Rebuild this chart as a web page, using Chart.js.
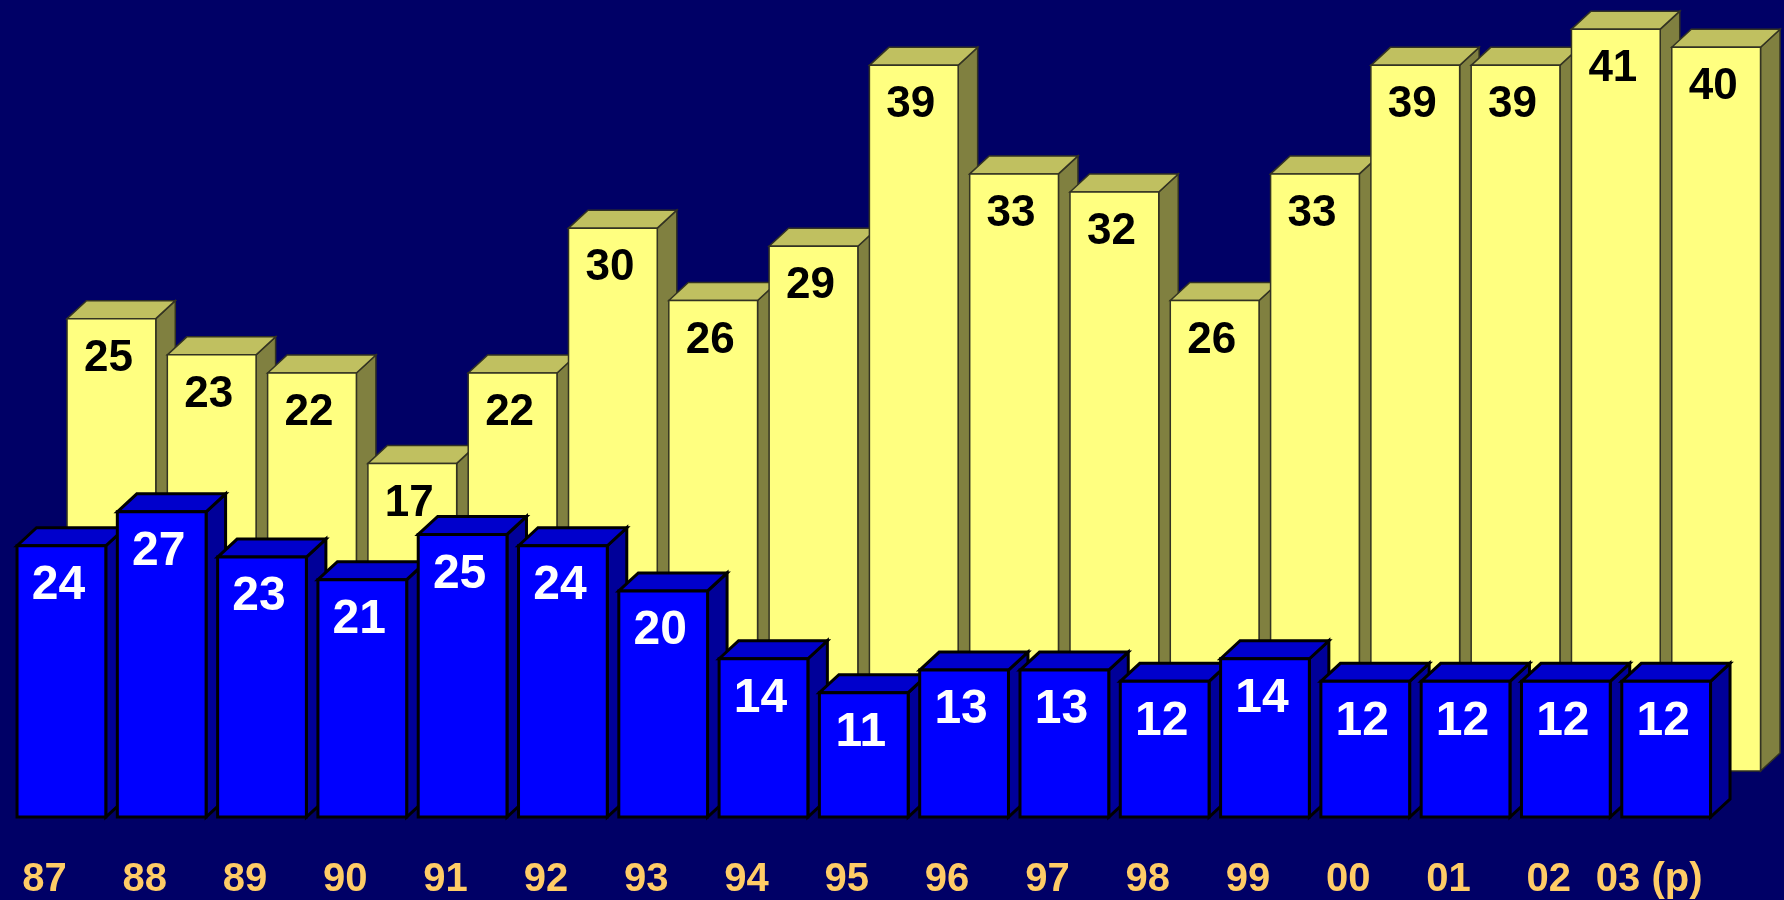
<!DOCTYPE html>
<html>
<head>
<meta charset="utf-8">
<script src="https://cdn.jsdelivr.net/npm/chart.js@4.4.0/dist/chart.umd.min.js"></script>
<style>
  html, body { margin: 0; padding: 0; background: #000066; }
  #wrap { width: 1784px; height: 900px; }
</style>
</head>
<body>
<div id="wrap"><canvas id="chart"></canvas></div>
<script>
const years = ['87', '88', '89', '90', '91', '92', '93', '94', '95', '96', '97', '98', '99', '00', '01', '02', '03 (p)'];
const blueValues = [24, 27, 23, 21, 25, 24, 20, 14, 11, 13, 13, 12, 14, 12, 12, 12, 12];
const yellowValues = [25, 23, 22, 17, 22, 30, 26, 29, 39, 33, 32, 26, 33, 39, 39, 41, 40];

// depth of the 3d boxes and shift of the back row
const DEPTH_X = 19.5, DEPTH_Y = 18;

const frontStyle = {
    shiftX: 0, shiftY: 0,
    front: '#0000FF', top: '#0000CC', side: '#000099',
    stroke: '#000000', lineWidth: 3,
    textColor: '#FFFFFF', font: 'bold 48px "Liberation Sans", Arial, sans-serif',
};
const backStyle = {
    shiftX: 50, shiftY: -46,
    front: '#FFFF80', top: '#C0C060', side: '#808040',
    stroke: '#333322', lineWidth: 1.5,
    textColor: '#000000', font: 'bold 44px "Liberation Sans", Arial, sans-serif',
};

function poly(ctx, pts, fill, st) {
    ctx.beginPath();
    ctx.moveTo(pts[0][0], pts[0][1]);
    for (let k = 1; k < pts.length; k++) ctx.lineTo(pts[k][0], pts[k][1]);
    ctx.closePath();
    ctx.fillStyle = fill;
    ctx.fill();
    ctx.lineWidth = st.lineWidth;
    ctx.strokeStyle = st.stroke;
    ctx.lineJoin = 'miter';
    ctx.stroke();
}

function drawRow(chart, idx, st) {
    const ctx = chart.ctx;
    const meta = chart.getDatasetMeta(idx);
    const values = chart.data.datasets[idx].data;
    meta.data.forEach((bar, i) => {
        const p = bar.getProps(['x', 'y', 'base', 'width'], true);
        const x0 = p.x - p.width / 2 + st.shiftX;
        const x1 = p.x + p.width / 2 + st.shiftX;
        const top = p.y + st.shiftY;
        const bot = p.base + st.shiftY;
        // right side
        poly(ctx, [[x1, top], [x1 + DEPTH_X, top - DEPTH_Y], [x1 + DEPTH_X, bot - DEPTH_Y], [x1, bot]], st.side, st);
        // top
        poly(ctx, [[x0, top], [x0 + DEPTH_X, top - DEPTH_Y], [x1 + DEPTH_X, top - DEPTH_Y], [x1, top]], st.top, st);
        // front
        poly(ctx, [[x0, top], [x1, top], [x1, bot], [x0, bot]], st.front, st);
        // value label
        ctx.fillStyle = st.textColor;
        ctx.font = st.font;
        ctx.textAlign = 'center';
        ctx.textBaseline = 'middle';
        ctx.fillText(String(values[i]), (x0 + x1) / 2 - 3, top + 40);
    });
}

const box3d = {
    id: 'box3d',
    beforeDraw(chart) {
        const ctx = chart.ctx;
        ctx.save();
        ctx.fillStyle = '#000066';
        ctx.fillRect(0, 0, chart.width, chart.height);
        ctx.restore();
    },
    afterDatasetsDraw(chart) {
        const ctx = chart.ctx;
        ctx.save();
        drawRow(chart, 1, backStyle);   // back row first
        drawRow(chart, 0, frontStyle);
        ctx.restore();
    }
};

const ctx = document.getElementById('chart').getContext('2d');
const myChart = new Chart(ctx, {
    type: 'bar',
    data: {
        labels: years,
        datasets: [{
            label: 'front',
            data: blueValues,
            yAxisID: 'y',
            backgroundColor: 'rgba(0,0,0,0)',
            borderWidth: 0,
        }, {
            label: 'back',
            data: yellowValues,
            yAxisID: 'y2',
            backgroundColor: 'rgba(0,0,0,0)',
            borderWidth: 0,
        }],
    },
    options: {
        responsive: true,
        maintainAspectRatio: false,
        animation: false,
        layout: {
            padding: { left: 5.7, right: 67.7, top: 10, bottom: 0 },
        },
        datasets: {
            bar: {
                grouped: false,
                barPercentage: 0.885,
                categoryPercentage: 1.0,
            },
        },
        scales: {
            x: {
                grid: { display: false, drawTicks: false },
                border: { display: false },
                ticks: {
                    color: '#FFCC66',
                    autoSkip: false,
                    maxRotation: 0,
                    padding: 39,
                    labelOffset: -17,
                    font: { family: '"Liberation Sans", Arial, sans-serif', size: 40, weight: 'bold' },
                },
                afterFit: (scale) => { scale.height = 83; },
            },
            y: {
                display: false,
                min: 0,
                max: 71.4,
            },
            y2: {
                display: false,
                min: 0,
                max: 44.6,
            },
        },
        plugins: {
            legend: { display: false },
            title: { display: false },
            tooltip: { enabled: false },
        },
    },
    plugins: [box3d],
});
</script>
</body>
</html>
